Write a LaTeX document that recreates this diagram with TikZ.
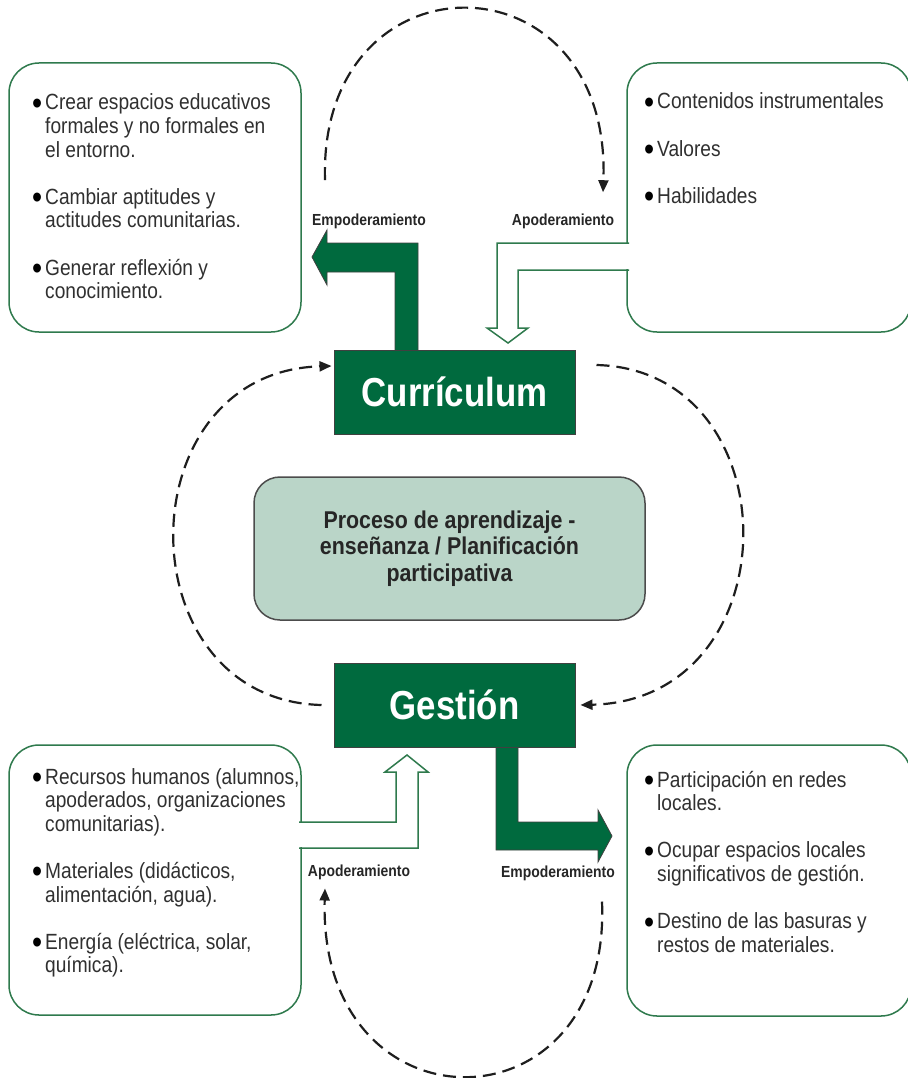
\documentclass[tikz,border=0pt]{standalone}
\usepackage{fontspec}
\setmainfont{Liberation Sans}
\newfontfamily\bodyfam[FakeStretch=0.87]{Liberation Sans}
\newfontfamily\labfam[FakeStretch=0.87]{Liberation Sans}
\newfontfamily\midfam[FakeStretch=0.88]{Liberation Sans}
\newfontfamily\titfam[FakeStretch=0.86]{Liberation Sans}
\usetikzlibrary{arrows.meta,calc}
\definecolor{dkgreen}{HTML}{006A3E}
\definecolor{boxgreen}{HTML}{2F7A4D}
\definecolor{procfill}{HTML}{BAD5C8}
\definecolor{txtgray}{HTML}{303030}
\definecolor{dashgray}{HTML}{1E1E1E}
\newcommand\itembul{\llap{\textcolor{black}{\raisebox{-4.5pt}{\scalebox{1.5}{\textbullet}}}\hspace{3pt}}}
\tikzset{
  infobox/.style={draw=boxgreen, line width=1.5pt, rounded corners=30pt, fill=white, inner sep=0pt, outer sep=0pt},
  boxline/.style={draw=boxgreen, line width=1.5pt, line join=miter},
  solidarrow/.style={fill=dkgreen, draw=black!75, line width=0.8pt, line join=miter},
  titlebox/.style={fill=dkgreen, draw=black!75, line width=1pt, minimum width=241pt, minimum height=84pt, inner sep=0pt, text=white, font=\titfam\bfseries\fontsize{40.5}{44}\selectfont},
  itemtext/.style={anchor=base west, inner sep=0pt, text=txtgray, font=\bodyfam\fontsize{22}{23.6}\selectfont},
  lab/.style={anchor=base, inner sep=0pt, text=black!85, font=\labfam\bfseries\fontsize{16}{18}\selectfont},
  dashconn/.style={draw=dashgray, line width=2.2pt, dash pattern=on 13pt off 7pt, -{Triangle[length=12pt,width=10pt]}}
}
\begin{document}
\begin{tikzpicture}[x=1pt,y=-1pt]
\useasboundingbox (0,0) rectangle (907,1078);
\fill[white] (0,0) rectangle (907,1078);

% info boxes
\node[infobox, minimum width=292pt, minimum height=269pt] (tl) at (155,197.5) {};
\node[infobox, minimum width=284pt, minimum height=269pt] (tr) at (769,197.5) {};
\node[infobox, minimum width=292pt, minimum height=270pt] (bl) at (155,880) {};
\node[infobox, minimum width=284pt, minimum height=271pt] (br) at (769,880.5) {};

% hollow arrow top (Apoderamiento)
\fill[white] (625,244.2) rectangle (629.5,268.8);
\draw[boxline] (629,243) -- (497,243) -- (497,328) -- (487,328) -- (508,343) -- (528,328) -- (518,328) -- (518,270) -- (629,270);

% hollow arrow bottom (Apoderamiento)
\fill[white] (298.5,823.2) rectangle (303,846.8);
\draw[boxline] (299,822) -- (396,822) -- (396,772) -- (385,772) -- (407,755) -- (428,772) -- (418,772) -- (418,848) -- (299,848);

% solid arrows (Empoderamiento)
\filldraw[solidarrow] (418,352) -- (418,243) -- (327,243) -- (327,230) -- (312,257) -- (327,285) -- (327,272) -- (395,272) -- (395,352) -- cycle;
\filldraw[solidarrow] (496,745) -- (496,850) -- (598,850) -- (598,862) -- (612,836) -- (598,810) -- (598,822) -- (518,822) -- (518,745) -- cycle;

% main boxes
\node[titlebox] (curr) at (454.5,392) {Currículum};
\node[titlebox] (gest) at (454.5,705) {Gestión};

\node[draw=black!70, line width=1.5pt, fill=procfill, rounded corners=26pt, minimum width=391pt, minimum height=143pt, inner sep=0pt, align=center, text=black!85, font=\midfam\bfseries\fontsize{24.3}{26.5}\selectfont] (proc) at (449.5,548.5) {Proceso de aprendizaje -\\enseñanza / Planificación\\participativa};

% labels
\node[lab] (emp1) at (369,225) {Empoderamiento};
\node[lab] (apo1) at (563,225) {Apoderamiento};
\node[lab] (apo2) at (359,876) {Apoderamiento};
\node[lab] (emp2) at (558,877) {Empoderamiento};

% item texts
\node[itemtext] (tltext) at (45,110) {\begin{tabular}[t]{@{}l@{}}\itembul Crear espacios educativos\\formales y no formales en\\el entorno.\\[23.6pt]\itembul Cambiar aptitudes y\\actitudes comunitarias.\\[23.6pt]\itembul Generar reflexión y\\conocimiento.\end{tabular}};
\node[itemtext] (trtext) at (657,109) {\begin{tabular}[t]{@{}l@{}}\itembul Contenidos instrumentales\\[23.6pt]\itembul Valores\\[23.6pt]\itembul Habilidades\end{tabular}};
\node[itemtext] (bltext) at (45,784) {\begin{tabular}[t]{@{}l@{}}\itembul Recursos humanos (alumnos,\\apoderados, organizaciones\\comunitarias).\\[23.6pt]\itembul Materiales (didácticos,\\alimentación, agua).\\[23.6pt]\itembul Energía (eléctrica, solar,\\química).\end{tabular}};
\node[itemtext] (brtext) at (657,787) {\begin{tabular}[t]{@{}l@{}}\itembul Participación en redes\\locales.\\[23.6pt]\itembul Ocupar espacios locales\\significativos de gestión.\\[23.6pt]\itembul Destino de las basuras y\\restos de materiales.\end{tabular}};

% dashed connectors
\coordinate (topS) at ($(emp1.north)+(-44,-33)$);
\coordinate (topE) at ($(apo1.north)+(40,-21)$);
\coordinate (botS) at ($(emp2.south)+(44,21)$);
\coordinate (botE) at ($(apo2.south)+(-34,9)$);
\draw[dashconn] (topS) .. controls (318,-50) and (612,-50) .. (topE);
\draw[dashconn] (botS) .. controls (612,1136) and (318,1136) .. (botE);
\draw[dashconn] ($(gest.west)+(-12,0)$) .. controls (124,700) and (124,372) .. ($(curr.west)+(-2,-26)$);
\draw[dashconn] ($(curr.east)+(21,-27)$) .. controls (793,370) and (793,700) .. ($(gest.east)+(5,0)$);
\end{tikzpicture}
\end{document}
